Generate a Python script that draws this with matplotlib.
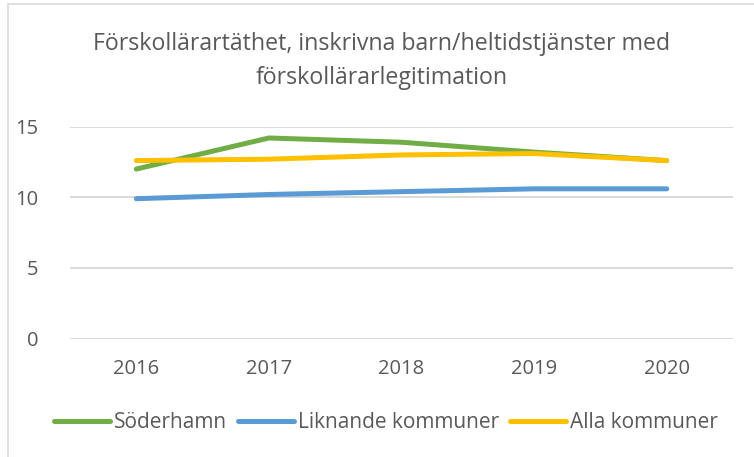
import numpy as np
import matplotlib
matplotlib.use("Agg")
import matplotlib.pyplot as plt
from matplotlib.patches import Rectangle

# Data
years = ["2016", "2017", "2018", "2019", "2020"]
soderhamn = [12.0, 14.2, 13.9, 13.2, 12.6]
liknande = [9.9, 10.2, 10.4, 10.6, 10.6]
alla = [12.6, 12.7, 13.0, 13.1, 12.6]
series_names = ["Söderhamn", "Liknande kommuner", "Alla kommuner"]
yticks = [0, 5, 10, 15]

colors = ["#70AD47", "#5B9BD5", "#FFC000"]
text_color = "#595959"
plt.rcParams['font.family'] = ['Open Sans', 'DejaVu Sans']

fig = plt.figure(figsize=(7.54, 4.57), dpi=100)
ax = fig.add_axes([70 / 754, 1 - 338.5 / 457, 663 / 754, (338.5 - 126.7) / 457])

x = np.arange(len(years))
for vals, name, c in zip([soderhamn, liknande, alla], series_names, colors):
    ax.plot(x, vals, color=c, lw=3.6, solid_capstyle="round", label=name, zorder=3)

ax.set_xlim(-0.5, len(years) - 0.5)
ax.set_ylim(0, 15)
ax.set_yticks(yticks)
ax.set_xticks(x)
ax.set_xticklabels(years)
ax.grid(axis="y", color="#D9D9D9", lw=1.4)
ax.set_axisbelow(True)
for s in ax.spines.values():
    s.set_visible(False)
ax.tick_params(length=0, labelsize=14.5, labelcolor=text_color)
ax.tick_params(axis="y", pad=23)
ax.tick_params(axis="x", pad=15)

fig.text(382 / 754, 1 - 61 / 457,
         "Förskollärartäthet, inskrivna barn/heltidstjänster med\nförskollärarlegitimation",
         ha="center", va="center", fontsize=16.7, color=text_color, linespacing=1.5)

fig.legend(loc="center", bbox_to_anchor=(386 / 754, 1 - 423 / 457), ncol=3, frameon=False,
           fontsize=15, labelcolor=text_color, handlelength=2.65, handletextpad=0.2,
           columnspacing=0.55)

# light chart-area border
fig.patches.append(Rectangle((8 / 754, -0.05), 1.2, 1 - 4 / 457 + 0.05, transform=fig.transFigure,
                             fill=False, edgecolor="#D9D9D9", lw=1.2))

fig.savefig("out.png", dpi=100)
